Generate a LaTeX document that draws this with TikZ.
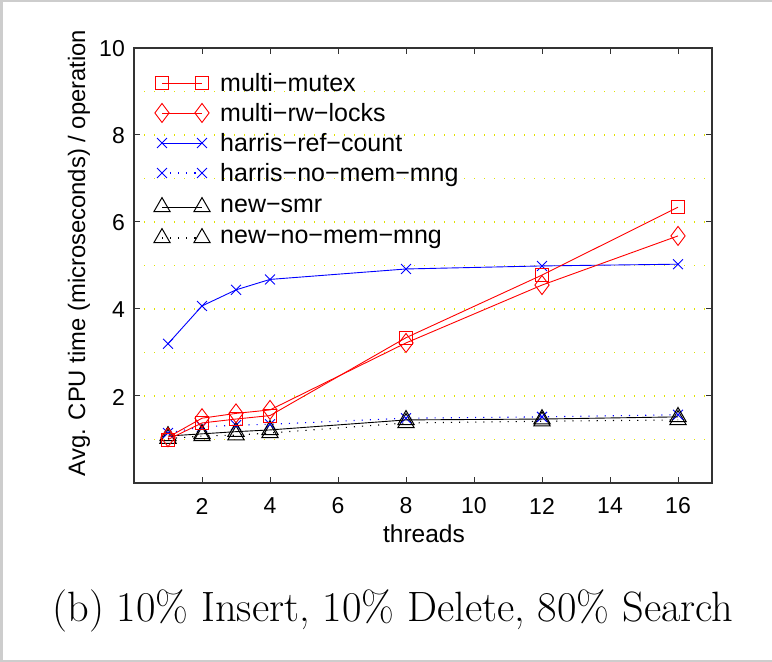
\documentclass[tikz,border=0pt]{standalone}
\usepackage{fontspec}
\newfontfamily\hv{Liberation Sans}
\usetikzlibrary{plotmarks}
\definecolor{gridyellow}{RGB}{225,225,0}
\definecolor{framegray}{RGB}{205,205,205}
\tikzset{
  axisline/.style={black!80, line width=1.3pt},
  gridline/.style={gridyellow, line width=1.3pt, dash pattern=on 1.3pt off 8.7pt},
  serie/.style={line width=0.9pt},
  dotline/.style={line width=1.1pt, dash pattern=on 1.1pt off 7pt},
  mkmutex/.style={red, mark=square, mark size=6.5pt, mark options={solid, line width=0.9pt}},
  mkrw/.style={red, mark=diamond, mark size=9.5pt, mark options={solid, line width=0.9pt}},
  mkx/.style={blue, mark=x, mark size=7pt, mark options={solid, line width=0.9pt}},
  mktri/.style={black, mark=triangle, mark size=9.4pt, mark options={solid, line width=1pt}},
  ticklab/.style={font=\hv\fontsize{23}{27}\selectfont, inner sep=0pt},
  leglab/.style={font=\hv\fontsize{25}{30}\selectfont, anchor=base west, inner sep=0pt},
}
\begin{document}
\begin{tikzpicture}[x=1pt,y=1pt]
\useasboundingbox (0,0) rectangle (772,662);
% outer frame
\draw[framegray, line width=2pt] (0,661) -- (772,661);
\draw[framegray, line width=3pt] (1.5,0) -- (1.5,662);
\draw[framegray, line width=2pt] (0,1) -- (772,1);

\begin{scope}[shift={(134pt,179pt)}, x=34pt, y=43.5pt]
  % grid
  \foreach \v in {1,...,9} \draw[gridline] (0,\v) -- (17,\v);
  % ticks
  \foreach \t in {2,4,...,16} {
    \draw[axisline, line width=1pt] (\t,0) -- ++(0,6pt);
    \draw[axisline, line width=1pt] (\t,10) -- ++(0,-6pt);
    \node[ticklab] (xt\t) at ([yshift=-23pt]\t,0) {\t};
  }
  \foreach \t in {2,4,6,8} {
    \draw[axisline, line width=1pt] (0,\t) -- ++(6pt,0);
    \draw[axisline, line width=1pt] (17,\t) -- ++(-6pt,0);
  }
  \foreach \t in {2,4,6,8,10} \node[ticklab, anchor=east] (yt\t) at ([xshift=-9pt,yshift=-1pt]0,\t) {\t};
  % box
  \draw[axisline] (0,0) rectangle (17,10);
  % data
  \draw[serie, mktri, dotline] plot coordinates {(1,1.02) (2,1.08) (3,1.1) (4,1.15) (8,1.38) (12,1.42) (16,1.45)};
  \draw[serie, mkx, dotline] plot coordinates {(1,1.15) (2,1.29) (3,1.33) (4,1.35) (8,1.49) (12,1.52) (16,1.57)};
  \draw[serie, mktri] plot coordinates {(1,1.08) (2,1.13) (3,1.18) (4,1.22) (8,1.45) (12,1.47) (16,1.52)};
  \draw[serie, mkx] plot coordinates {(1,3.2) (2,4.07) (3,4.44) (4,4.68) (8,4.92) (12,4.99) (16,5.03)};
  \draw[serie, mkrw] plot coordinates {(1,1.05) (2,1.49) (3,1.6) (4,1.68) (8,3.22) (12,4.55) (16,5.68)};
  \draw[serie, mkmutex] plot coordinates {(1,1.0) (2,1.38) (3,1.47) (4,1.55) (8,3.34) (12,4.78) (16,6.34)};
\end{scope}

% legend
\draw[serie, mkmutex] plot coordinates {(162,579) (202,579)};
\node[leglab] (l1) at (220,570) {multi−mutex};
\draw[serie, mkrw] plot coordinates {(162,549) (202,549)};
\node[leglab] (l2) at (220,540) {multi−rw−locks};
\draw[serie, mkx] plot coordinates {(162,519) (202,519)};
\node[leglab] (l3) at (220,510) {harris−ref−count};
\draw[serie, mkx, dotline] plot coordinates {(162,489) (202,489)};
\node[leglab] (l4) at (220,480) {harris−no−mem−mng};
\draw[serie, mktri] plot coordinates {(162,455) (202,455)};
\node[leglab] (l5) at (220,449) {new−smr};
\draw[serie, mktri, dotline] plot coordinates {(162,424) (202,424)};
\node[leglab] (l6) at (220,418) {new−no−mem−mng};

% axis labels
\node[font=\hv\fontsize{24.5}{29}\selectfont, anchor=base, inner sep=0pt] (xl) at (424,119) {threads};
\node[font=\hv\fontsize{23.8}{28}\selectfont, rotate=90, anchor=base, inner sep=0pt] (yl) at (85,409) {Avg. CPU time (microseconds) / operation};

% caption
\node[font=\fontsize{42.4}{50}\selectfont, anchor=base, inner sep=0pt] (cap) at (393,40) {(b) 10\% Insert, 10\% Delete, 80\% Search};
\end{tikzpicture}
\end{document}
